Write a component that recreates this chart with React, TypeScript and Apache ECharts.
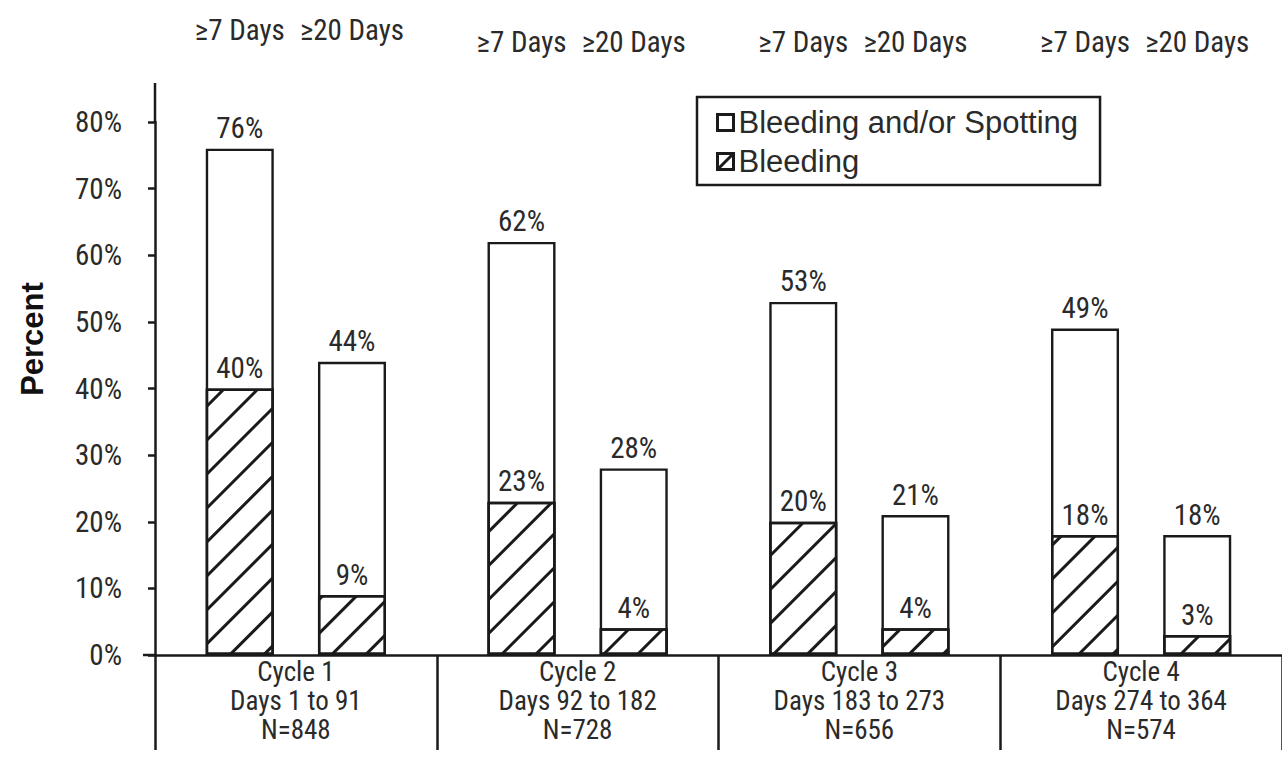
import React, { useEffect, useRef } from "react";
import * as echarts from "echarts";

// ---- data ----
const cycles = ["Cycle 1", "Cycle 2", "Cycle 3", "Cycle 4"];
const dayRanges = ["Days 1 to 91", "Days 92 to 182", "Days 183 to 273", "Days 274 to 364"];
const sampleSizes = [848, 728, 656, 574];
const windowLabels = ["≥7 Days", "≥20 Days"];
const spotting7 = [76, 62, 53, 49];
const bleeding7 = [40, 23, 20, 18];
const spotting20 = [44, 28, 21, 18];
const bleeding20 = [9, 4, 4, 3];
const yMax = 80;
const yStep = 10;
const seriesNames = ["Bleeding and/or Spotting", "Bleeding"];

// ---- style ----
const NARROW = '"Liberation Sans Narrow", "Arial Narrow", "Roboto Condensed", "DejaVu Sans Condensed", sans-serif';
const REG = '"Liberation Sans", Arial, sans-serif';
const INK = "#1a1a1a";
const TXT = "#2a2a2a";
const GRID_LEFT = 155;
const GRID_WIDTH = 1133;
const GRID_TOP = 122;
const GRID_BOTTOM = 102;
const BAR_W = 68;
const BAR_GAP = 0.65;
const HEADER_Y = [30, 42, 42, 42];

const hatch = {
  symbol: "rect",
  symbolSize: 1,
  color: INK,
  dashArrayX: [1, 0],
  dashArrayY: [3, 21],
  rotation: -Math.PI / 4,
};

export default function App() {
  const ref = useRef<HTMLDivElement>(null);
  useEffect(() => {
    if (!ref.current) return;
    const chart = echarts.init(ref.current, null, { renderer: "svg" });
    const pct = (v: number) => v + "%";
    const barLabel = {
      show: true,
      position: "top",
      distance: 6,
      fontFamily: NARROW,
      fontSize: 29,
      color: TXT,
      formatter: (p: any) => pct(p.value),
    };
    const barBase = {
      type: "bar",
      barWidth: BAR_W,
      barGap: BAR_GAP * 100 + "%",
      label: barLabel,
    };
    const white = { color: "#fff", borderColor: INK, borderWidth: 2.4 };
    const hatched = { color: "#fff", borderColor: INK, borderWidth: 2.4, decal: hatch };
    chart.setOption({
      animation: false,
      backgroundColor: "#fff",
      grid: { left: GRID_LEFT, width: GRID_WIDTH, top: GRID_TOP, bottom: GRID_BOTTOM },
      legend: {
        data: [
          { name: seriesNames[0], icon: "rect" },
          { name: seriesNames[1], icon: "path://M0,0H16V16H0Z M1,15L15,1" },
        ],
        orient: "vertical",
        left: 697,
        top: 97,
        padding: [10, 22, 8, 19],
        itemGap: 8,
        itemWidth: 16,
        itemHeight: 16,
        borderColor: INK,
        borderWidth: 2.5,
        borderRadius: 0,
        itemStyle: { borderWidth: 3, borderColor: INK, color: "#fff", decal: "none" },
        textStyle: { fontFamily: REG, fontSize: 31, color: TXT, padding: [0, 0, 0, 0] },
      },
      xAxis: [
        {
          type: "category",
          data: cycles,
          axisLine: { lineStyle: { color: INK, width: 2.5 } },
          axisTick: { show: true, alignWithLabel: false, length: 95, lineStyle: { color: INK, width: 2.5 } },
          axisLabel: {
            margin: 2,
            fontFamily: NARROW,
            fontSize: 27,
            lineHeight: 29,
            color: TXT,
            formatter: (v: string) => {
              const i = cycles.indexOf(v);
              return `${v}\n${dayRanges[i]}\nN=${sampleSizes[i]}`;
            },
          },
        },
        { type: "category", data: cycles, show: false },
      ],
      yAxis: {
        type: "value",
        min: 0,
        max: yMax,
        interval: yStep,
        axisLine: { show: true, lineStyle: { color: INK, width: 2.5 } },
        axisTick: { show: true, length: 7, lineStyle: { color: INK, width: 2.5 } },
        splitLine: { show: false },
        axisLabel: {
          margin: 33,
          fontFamily: NARROW,
          fontSize: 29,
          color: TXT,
          formatter: (v: number) => pct(v),
        },
      },
      series: [
        { ...barBase, name: seriesNames[0], xAxisIndex: 0, data: spotting7, itemStyle: white },
        { ...barBase, name: seriesNames[0], xAxisIndex: 0, data: spotting20, itemStyle: white },
        { ...barBase, name: seriesNames[1], xAxisIndex: 1, data: bleeding7, itemStyle: hatched },
        { ...barBase, name: seriesNames[1], xAxisIndex: 1, data: bleeding20, itemStyle: hatched },
      ],
    });

    // annotations positioned from the chart's own scales
    const off = (BAR_W * (1 + BAR_GAP)) / 2;
    const y0 = chart.convertToPixel({ yAxisIndex: 0 }, 0) as number;
    const yTop = chart.convertToPixel({ yAxisIndex: 0 }, yMax) as number;
    const graphics: any[] = [];
    cycles.forEach((c, i) => {
      const cx = chart.convertToPixel({ xAxisIndex: 0 }, c) as number;
      windowLabels.forEach((w, j) => {
        graphics.push({
          type: "text",
          x: cx + (j === 0 ? -off : off),
          y: HEADER_Y[i],
          style: {
            text: w,
            font: `29px ${NARROW}`,
            fill: TXT,
            align: "center",
            verticalAlign: "middle",
          },
        });
      });
    });
    graphics.push({
      type: "line",
      shape: { x1: GRID_LEFT, y1: yTop - 39, x2: GRID_LEFT, y2: yTop + 1 },
      style: { stroke: INK, lineWidth: 2.5 },
    });
    graphics.push({
      type: "line",
      shape: { x1: GRID_LEFT - 12, y1: y0, x2: GRID_LEFT, y2: y0 },
      style: { stroke: INK, lineWidth: 2.5 },
    });
    graphics.push({
      type: "text",
      x: 32,
      y: 339,
      rotation: Math.PI / 2,
      style: {
        text: "Percent",
        font: `bold 31px ${REG}`,
        fill: "#111",
        align: "center",
        verticalAlign: "middle",
      },
    });
    chart.setOption({ graphic: graphics });

    return () => chart.dispose();
  }, []);
  return (
    <div
      ref={ref}
      style={{ position: "absolute", left: 0, top: 0, width: 1282, height: 757, background: "#fff" }}
    />
  );
}
